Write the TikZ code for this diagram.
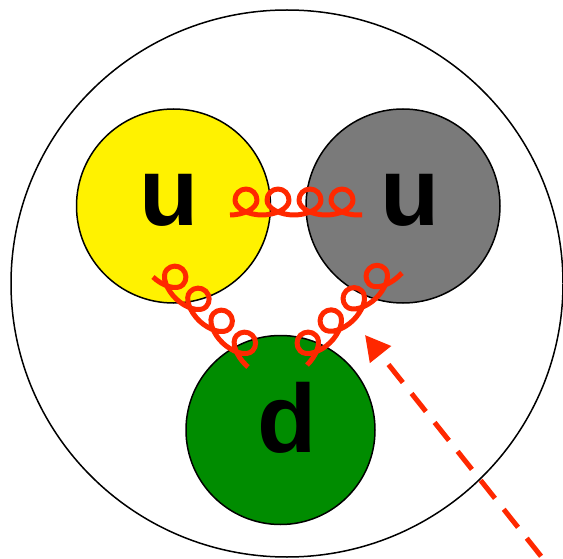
\documentclass[tikz,border=0pt]{standalone}
\usepackage{fontspec}
\setmainfont{Liberation Sans}
\usetikzlibrary{arrows.meta,decorations}
\definecolor{glred}{RGB}{255,40,0}
\definecolor{qgray}{RGB}{122,122,122}
\definecolor{qgreen}{RGB}{0,140,0}
\pgfdeclaredecoration{curl}{curl}{%
  \state{curl}[width=\pgfdecorationsegmentlength,
    switch if less than=\pgfdecorationsegmentlength to final]{%
    \pgfpathcurveto{\pgfpoint{.4\pgfdecorationsegmentlength}{0pt}}
      {\pgfpoint{.5\pgfdecorationsegmentlength+11pt}{6pt}}
      {\pgfpoint{.5\pgfdecorationsegmentlength+11pt}{15pt}}%
    \pgfpatharc{0}{180}{11pt}%
    \pgfpathcurveto{\pgfpoint{.5\pgfdecorationsegmentlength-11pt}{6pt}}
      {\pgfpoint{.6\pgfdecorationsegmentlength}{0pt}}
      {\pgfpoint{\pgfdecorationsegmentlength}{0pt}}%
  }
  \state{final}{\pgfpathlineto{\pgfpointdecoratedpathlast}}
}
\tikzset{
  quark/.style={circle,draw,line width=1.5pt,inner sep=0pt},
  flavour/.style={anchor=base,inner sep=0pt,font=\fontsize{97pt}{97pt}\selectfont\bfseries},
  gluon/.style={glred,line width=5pt,line join=round,decorate,decoration={curl,segment length=32pt}},
}
\begin{document}
\begin{tikzpicture}[x=1pt,y=-1pt]
\useasboundingbox (0,0) rectangle (563,559);
\draw[line width=1.5pt] (287,283.5) ellipse [x radius=276,y radius=273.5];
\node[quark,fill=yellow,minimum size=194pt] (u1) at (173.5,206) {};
\node[quark,fill=qgray,minimum size=194pt] (u2) at (403,206) {};
\node[quark,fill=qgreen,minimum size=189pt] (d) at (280.5,430) {};
\node[flavour] (u1l) at (169.5,226) {u};
\node[flavour] (u2l) at (410.5,226) {u};
\node[flavour] (dl) at (287.5,452) {d};
\coordinate (a1) at (230,215);
\coordinate (b1) at (362,215);
\coordinate (a2) at (153,277);
\coordinate (b2) at (248,367);
\coordinate (a3) at (307,365);
\coordinate (b3) at (402,273);
\draw[gluon] (a1) -- (b1);
\draw[gluon] (a2) -- (b2);
\draw[gluon] (a3) -- (b3);
\coordinate (hit) at (365,335);
\coordinate (probe) at (556,575);
\draw[glred,line width=5pt,dash pattern=on 23pt off 14pt,dash phase=23pt,
  {Triangle[length=25pt,width=26pt]}-] (hit) -- (probe);
\end{tikzpicture}
\end{document}
